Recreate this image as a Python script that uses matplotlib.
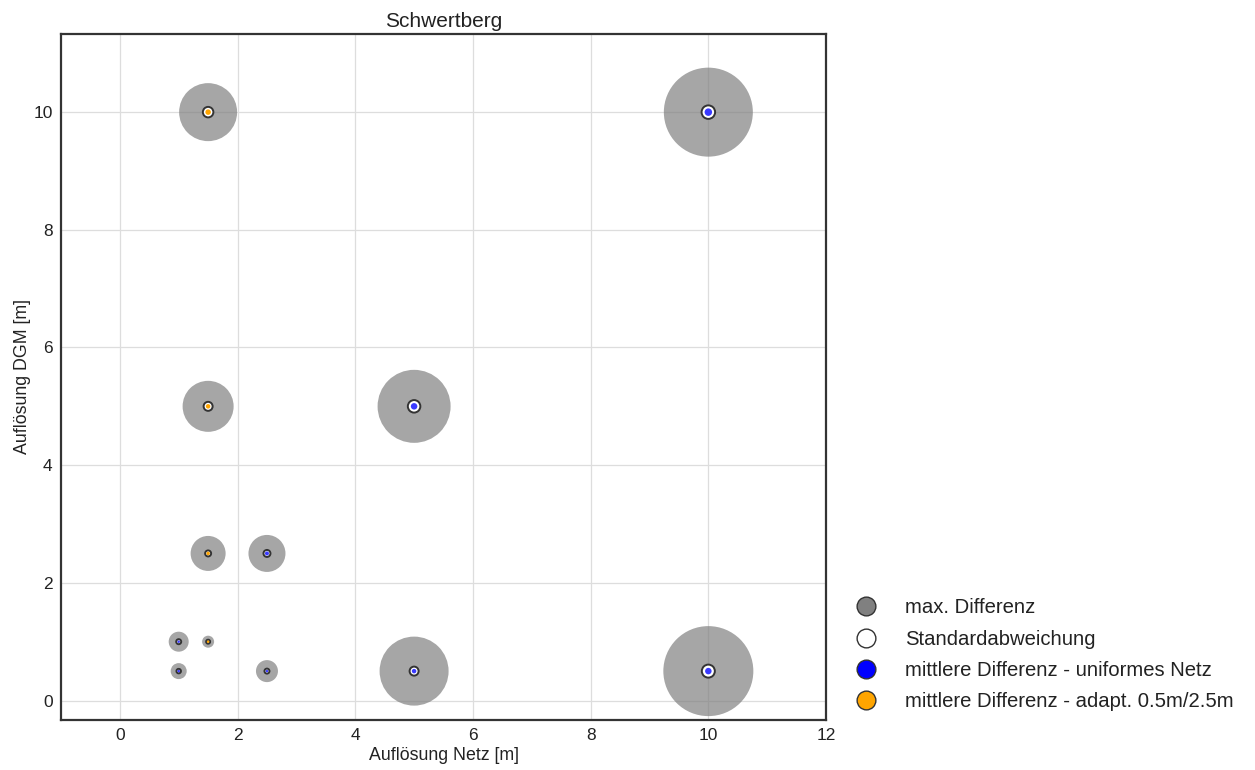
import matplotlib
matplotlib.use("Agg")
import matplotlib.pyplot as plt
from matplotlib.lines import Line2D

plt.rcParams['font.family'] = ['Liberation Sans', 'DejaVu Sans']

# Data
netz = [1.0, 1.0, 1.5, 2.5, 1.5, 2.5, 1.5, 5.0, 1.5, 10.0, 5.0, 10.0]
dgm = [0.5, 1.0, 1.0, 0.5, 2.5, 2.5, 5.0, 5.0, 10.0, 10.0, 0.5, 0.5]
max_diff = [1.6, 2.0, 1.2, 2.2, 3.5, 3.7, 5.1, 7.3, 5.8, 8.9, 6.9, 9.0]
std_dev = [0.45, 0.5, 0.4, 0.5, 0.6, 0.7, 0.9, 1.25, 1.05, 1.35, 0.9, 1.3]
mean_diff = [0.25, 0.25, 0.25, 0.25, 0.35, 0.4, 0.45, 0.65, 0.55, 0.75, 0.45, 0.65]
adaptive = [False, False, True, False, True, False, True, False, True, False, False, False]

DPI = 100
PX_PER_UNIT = 10.0  # px diameter per data unit


def size(v):
    d_pt = v * PX_PER_UNIT * 72.0 / DPI
    return d_pt ** 2


fig = plt.figure(figsize=(12.55, 7.7), dpi=DPI)
ax = fig.add_axes([0.0486, 0.065, 0.6096, 0.891])

ax.set_axisbelow(True)
ax.grid(True, color='#dddddd', linewidth=0.9)

ax.scatter(netz, dgm, s=[size(v) for v in max_diff], color='gray', alpha=0.7,
           linewidths=0, zorder=2)
ax.scatter(netz, dgm, s=[size(v) for v in std_dev], facecolor='white',
           edgecolor='#333333', linewidths=1.4, zorder=3)
colors = ['orange' if a else '#3a3aff' for a in adaptive]
ax.scatter(netz, dgm, s=[size(v) for v in mean_diff], c=colors, linewidths=0,
           zorder=4)

ax.set_xlim(-1, 12)
ax.set_ylim(-0.33, 11.33)
ax.set_xticks(range(0, 13, 2))
ax.set_yticks(range(0, 11, 2))
ax.tick_params(length=0, labelsize=12.5, colors='#222222', pad=6)
for sp in ax.spines.values():
    sp.set_linewidth(1.6)
    sp.set_color('#333333')

ax.set_title('Schwertberg', fontsize=15, color='#222222', pad=5)
ax.set_xlabel('Auflösung Netz [m]', fontsize=12.8, color='#222222', labelpad=3)
ax.set_ylabel('Auflösung DGM [m]', fontsize=12.8, color='#222222', labelpad=2)

handles = [
    Line2D([], [], marker='o', linestyle='', markersize=13.5, markerfacecolor='gray',
           markeredgecolor='#333333', markeredgewidth=1.0),
    Line2D([], [], marker='o', linestyle='', markersize=13.5, markerfacecolor='white',
           markeredgecolor='#333333', markeredgewidth=1.0),
    Line2D([], [], marker='o', linestyle='', markersize=13.5, markerfacecolor='blue',
           markeredgecolor='#333333', markeredgewidth=1.0),
    Line2D([], [], marker='o', linestyle='', markersize=13.5, markerfacecolor='orange',
           markeredgecolor='#333333', markeredgewidth=1.0),
]
labels = ['max. Differenz', 'Standardabweichung',
          'mittlere Differenz - uniformes Netz',
          'mittlere Differenz - adapt. 0.5m/2.5m']
fig.legend(handles, labels, loc='lower left', bbox_to_anchor=(0.659, 0.053),
           frameon=False, fontsize=14.6, handletextpad=0.95, labelspacing=0.6,
           labelcolor='#222222')

fig.savefig('out.png', dpi=DPI)
